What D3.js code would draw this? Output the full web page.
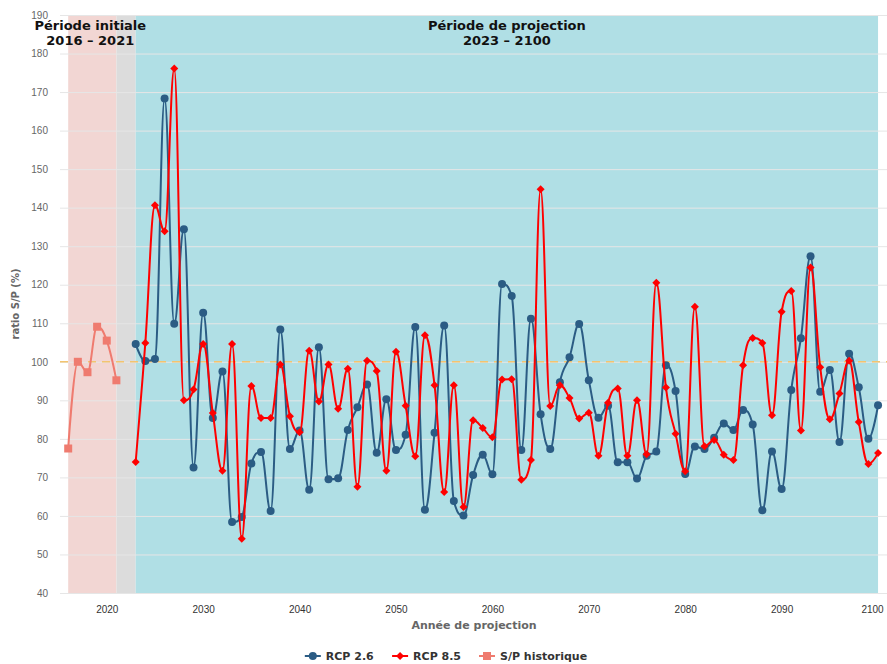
<!DOCTYPE html>
<html>
<head>
<meta charset="utf-8">
<script src="https://cdn.jsdelivr.net/npm/d3@7"></script>
<style>
  body { margin: 0; background: #fff; }
  svg { display: block; font-family: "DejaVu Sans", Verdana, sans-serif; }
</style>
</head>
<body>
<div id="chart"></div>
<script>
// values
const histYears = [2016, 2017, 2018, 2019, 2020, 2021];
const histValues = [77.5, 100.0, 97.3, 109.1, 105.5, 95.2];

const projYears = d3.range(2023, 2101);
const rcp26 = [
  104.6, 100.2, 100.7, 168.3, 109.9, 134.4, 72.6, 112.7, 85.4, 97.5,   // 2023-2032
  58.4, 59.7, 73.6, 76.6, 61.3, 108.4, 77.4, 82.2, 66.8, 103.8,        // 2033-2042
  69.5, 69.8, 82.3, 88.2, 94.1, 76.4, 90.3, 77.1, 81.1, 109.0,         // 2043-2052
  61.6, 81.6, 109.4, 63.9, 60.1, 70.6, 75.9, 70.8, 120.2, 117.1,       // 2053-2062
  77.1, 111.2, 86.4, 77.4, 94.7, 101.2, 109.8, 95.2, 85.5, 88.6,       // 2063-2072
  73.9, 73.9, 69.7, 75.6, 76.7, 99.1, 92.4, 70.9, 78.0, 77.4,          // 2073-2082
  80.3, 84.0, 82.3, 87.5, 83.7, 61.5, 76.7, 67.0, 92.7, 106.1,         // 2083-2092
  127.4, 92.2, 97.9, 79.2, 102.1, 93.4, 80.0, 88.7                     // 2093-2100
];
const rcp85 = [
  74.0, 104.9, 140.6, 133.9, 176.1, 90.0, 92.8, 104.6, 86.7, 71.7,     // 2023-2032
  104.6, 54.1, 93.7, 85.4, 85.4, 99.3, 85.9, 81.7, 102.9, 89.7,        // 2033-2042
  99.3, 87.8, 98.2, 67.6, 100.3, 97.6, 71.7, 102.6, 88.6, 75.5,        // 2043-2052
  106.9, 93.9, 66.2, 93.9, 62.3, 84.8, 82.8, 80.4, 95.4, 95.5,         // 2053-2062
  69.4, 74.5, 144.8, 88.5, 93.9, 90.6, 85.3, 86.8, 75.6, 89.4,         // 2063-2072
  93.1, 75.6, 90.0, 76.0, 120.5, 93.3, 81.3, 71.6, 114.3, 78.1,        // 2073-2082
  79.7, 75.9, 74.5, 99.1, 106.2, 104.9, 86.1, 113.0, 118.4, 82.2,      // 2083-2092
  124.5, 98.6, 85.1, 91.8, 100.3, 84.4, 73.5, 76.3                     // 2093-2100
];

const xTicks = [2020, 2030, 2040, 2050, 2060, 2070, 2080, 2090, 2100];
const yTicks = d3.range(40, 191, 10);
const bands = [
  { from: 2016, to: 2021, color: "#f2d6d3", label: ["Période initiale", "2016 – 2021"] },
  { from: 2021, to: 2023, color: "#dcdcdc", label: null },
  { from: 2023, to: 2100, color: "#b0dfe5", label: ["Période de projection", "2023 – 2100"] }
];
const series = [
  { name: "RCP 2.6", color: "#2b5c84", symbol: "circle" },
  { name: "RCP 8.5", color: "#ff0000", symbol: "diamond" },
  { name: "S/P historique", color: "#ef7b6f", symbol: "square" }
];

const width = 887, height = 664;
const plot = { left: 60, right: 887, top: 15, bottom: 593 };

const x = d3.scaleLinear().domain([2015.15, 2100.93]).range([plot.left, plot.right]);
const y = d3.scaleLinear().domain([40, 190]).range([plot.bottom, plot.top]);

// spline like the one Highcharts draws (smoothing 1.5, no overshoot past neighbours)
function splineCurve(context) {
  let pts;
  return {
    areaStart() {}, areaEnd() {},
    lineStart() { pts = []; },
    point(px, py) { pts.push([+px, +py]); },
    lineEnd() {
      const n = pts.length;
      if (!n) return;
      const sm = 1.5, den = 2.5;
      const ctl = pts.map(() => ({}));
      for (let i = 1; i < n - 1; i++) {
        const [px, py] = pts[i], [lx, ly] = pts[i - 1], [nx, ny] = pts[i + 1];
        let lcx = (sm * px + lx) / den, lcy = (sm * py + ly) / den;
        let rcx = (sm * px + nx) / den, rcy = (sm * py + ny) / den;
        if (rcx !== lcx) {
          const corr = ((rcy - lcy) * (rcx - px)) / (rcx - lcx) + py - rcy;
          lcy += corr; rcy += corr;
        }
        if (lcy > ly && lcy > py) { lcy = Math.max(ly, py); rcy = 2 * py - lcy; }
        else if (lcy < ly && lcy < py) { lcy = Math.min(ly, py); rcy = 2 * py - lcy; }
        if (rcy > ny && rcy > py) { rcy = Math.max(ny, py); lcy = 2 * py - rcy; }
        else if (rcy < ny && rcy < py) { rcy = Math.min(ny, py); lcy = 2 * py - rcy; }
        ctl[i] = { lx: lcx, ly: lcy, rx: rcx, ry: rcy };
      }
      context.moveTo(pts[0][0], pts[0][1]);
      for (let i = 1; i < n; i++) {
        const a = ctl[i - 1], b = ctl[i];
        context.bezierCurveTo(
          a.rx !== undefined ? a.rx : pts[i - 1][0], a.ry !== undefined ? a.ry : pts[i - 1][1],
          b.lx !== undefined ? b.lx : pts[i][0], b.ly !== undefined ? b.ly : pts[i][1],
          pts[i][0], pts[i][1]);
      }
    }
  };
}

function symbolPath(type) {
  if (type === "circle") return d3.symbol(d3.symbolCircle, Math.PI * 16)();
  const r = 4;
  if (type === "diamond") return `M0,${-r}L${r},0L0,${r}L${-r},0Z`;
  return `M${-r},${-r}H${r}V${r}H${-r}Z`;
}

const svg = d3.select("#chart").append("svg")
  .attr("width", width)
  .attr("height", height);

// plot bands
svg.append("g").selectAll("rect")
  .data(bands)
  .enter()
  .append("rect")
  .attr("x", d => x(d.from))
  .attr("width", d => x(d.to) - x(d.from))
  .attr("y", plot.top)
  .attr("height", plot.bottom - plot.top)
  .attr("fill", d => d.color);

// y axis with grid lines
const yAxis = svg.append("g")
  .attr("transform", `translate(${plot.left},0)`)
  .call(d3.axisLeft(y).tickValues(yTicks).tickSize(-(plot.right - plot.left)).tickPadding(12));
yAxis.select(".domain").remove();
yAxis.selectAll(".tick line").attr("stroke", "#e6e6e6");
yAxis.selectAll(".tick text")
  .attr("fill", "#666")
  .style("font-size", "10px");

// x axis
const xAxis = svg.append("g")
  .attr("transform", `translate(0,${plot.bottom})`)
  .call(d3.axisBottom(x).tickValues(xTicks).tickFormat(d3.format("d")).tickSize(0).tickPadding(13));
xAxis.select(".domain").attr("stroke", "#e6e6e6");
xAxis.selectAll(".tick text")
  .attr("fill", "#333")
  .style("font-size", "10px");
// keep the last label inside the picture
xAxis.selectAll(".tick text").filter(d => d === 2100).attr("dx", -6);

// reference line at 100
svg.append("line")
  .attr("x1", plot.left)
  .attr("x2", plot.right)
  .attr("y1", y(100))
  .attr("y2", y(100))
  .attr("stroke", "#f3c46f")
  .attr("stroke-width", 1.5)
  .attr("stroke-dasharray", "8,6");

// band labels
bands.filter(b => b.label).forEach(b => {
  const cx = (x(b.from) + x(b.to)) / 2 - (b.from === 2016 ? 2 : 0);
  const t = svg.append("text")
    .attr("x", cx)
    .attr("y", 30)
    .attr("text-anchor", "middle")
    .attr("font-weight", "bold")
    .style("font-size", "13px")
    .attr("fill", "#111");
  b.label.forEach((s, i) => {
    t.append("tspan")
      .attr("x", cx)
      .attr("dy", i === 0 ? 0 : 15)
      .text(s);
  });
});

// axis titles
svg.append("text")
  .attr("transform", `translate(19,${(plot.top + plot.bottom) / 2}) rotate(-90)`)
  .attr("text-anchor", "middle")
  .attr("font-weight", "bold")
  .attr("fill", "#666")
  .style("font-size", "10px")
  .text("ratio S/P (%)");

svg.append("text")
  .attr("x", 474)
  .attr("y", 629)
  .attr("text-anchor", "middle")
  .attr("font-weight", "bold")
  .attr("fill", "#666")
  .style("font-size", "11px")
  .text("Année de projection");

// series
const line = d3.line()
  .x(d => x(d[0]))
  .y(d => y(d[1]))
  .curve(splineCurve);

const seriesData = [
  d3.zip(projYears, rcp26),
  d3.zip(projYears, rcp85),
  d3.zip(histYears, histValues)
];

seriesData.forEach((data, i) => {
  const s = series[i];
  svg.append("path")
    .datum(data)
    .attr("fill", "none")
    .attr("stroke", s.color)
    .attr("stroke-width", 2)
    .attr("d", line);
  svg.append("g").selectAll("path")
    .data(data)
    .enter()
    .append("path")
    .attr("transform", d => `translate(${x(d[0])},${y(d[1])})`)
    .attr("d", symbolPath(s.symbol))
    .attr("fill", s.color);
});

// legend
const legend = svg.append("g");
const items = legend.selectAll("g")
  .data(series)
  .enter()
  .append("g");
items.append("line")
  .attr("x1", 0).attr("x2", 16)
  .attr("y1", 0).attr("y2", 0)
  .attr("stroke", d => d.color)
  .attr("stroke-width", 2);
items.append("path")
  .attr("transform", "translate(8,0)")
  .attr("d", d => symbolPath(d.symbol))
  .attr("fill", d => d.color);
items.append("text")
  .attr("x", 21)
  .attr("y", 4)
  .attr("font-weight", "bold")
  .attr("fill", "#333")
  .style("font-size", "11px")
  .text(d => d.name);

const widths = [];
items.each(function () {
  widths.push(this.getBBox().width);
});
const total = d3.sum(widths) + 18 * (widths.length - 1);
let offset = 446 - total / 2;
items.attr("transform", (d, i) => {
  const t = `translate(${offset},656)`;
  offset += widths[i] + 18;
  return t;
});
</script>
</body>
</html>
